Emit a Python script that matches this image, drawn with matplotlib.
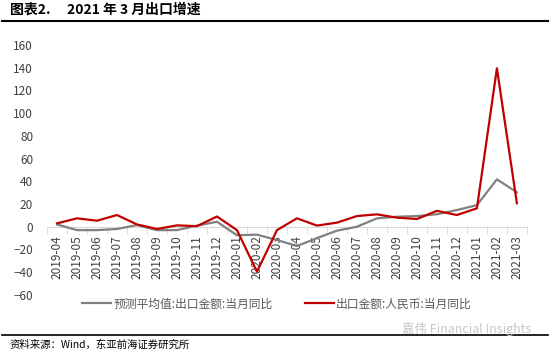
import matplotlib
matplotlib.use('Agg')
import matplotlib.pyplot as plt
import numpy as np

plt.rcParams['font.family'] = ['Noto Sans CJK SC', 'DejaVu Sans']

months = ['2019-04', '2019-05', '2019-06', '2019-07', '2019-08', '2019-09',
          '2019-10', '2019-11', '2019-12', '2020-01', '2020-02', '2020-03',
          '2020-04', '2020-05', '2020-06', '2020-07', '2020-08', '2020-09',
          '2020-10', '2020-11', '2020-12', '2021-01', '2021-02', '2021-03']
forecast = [2, -3, -3, -2, 1.5, -3, -3, 1, 4.4, -7.5, -7, -11.7,
            -17, -10, -3.5, 0, 7.4, 8.8, 9.4, 11, 14.7, 19, 41.7, 30.3]
actual_rmb = [3, 7.4, 5.3, 10.3, 2, -2, 1.2, 0.5, 9, -3, -39.6, -3,
              7.4, 1, 3.6, 9.4, 10.9, 8, 6.8, 14, 10.3, 16.2, 139.5, 20.6]
yticks = list(range(-60, 161, 20))

fig = plt.figure(figsize=(5.5, 3.57), dpi=100)
ax = fig.add_axes([0.0855, 0.174, 0.8725, 0.7])

x = np.arange(len(months))
ax.plot(x, forecast, color='#808080', lw=1.6, zorder=3,
        label='预测平均值:出口金额:当月同比')
ax.plot(x, actual_rmb, color='#C00000', lw=1.6, zorder=4,
        label='出口金额:人民币:当月同比')

ax.set_xlim(-0.5, len(months) - 0.5)
ax.set_ylim(-60, 160)
ax.set_yticks(yticks)
ax.tick_params(axis='y', length=0, labelsize=8.5, labelcolor='#404040', pad=10)

# x axis sits on the zero line
for s in ['top', 'right', 'left']:
    ax.spines[s].set_visible(False)
ax.spines['bottom'].set_position(('data', 0))
ax.spines['bottom'].set_color('#d9d9d9')
ax.set_xticks(x)
ax.set_xticklabels(months, rotation=90, fontsize=8.5, color='#404040')
ax.set_xticks(np.arange(len(months) + 1) - 0.5, minor=True)
ax.tick_params(axis='x', which='major', length=0, pad=6)
ax.tick_params(axis='x', which='minor', length=5, color='#d9d9d9')

fig.legend(*ax.get_legend_handles_labels(), loc='center',
           bbox_to_anchor=(0.504, 1 - 304 / 357), ncol=2, frameon=False,
           fontsize=8.5, handlelength=2.4, handletextpad=0.2,
           columnspacing=2.8, labelcolor='#595959')

# header / footer
fig.text(0.018, 0.972, '图表2.', fontsize=10, fontweight='bold', va='center')
fig.text(0.122, 0.972, '2021 年 3 月出口增速', fontsize=10, fontweight='bold',
         va='center')
fig.add_artist(plt.Line2D([0.004, 0.996], [0.94, 0.94], color='black', lw=1.5))
fig.add_artist(plt.Line2D([0.004, 0.996], [1 - 335 / 357, 1 - 335 / 357],
                          color='black', lw=1.2))
fig.text(0.018, 1 - 345 / 357, '资料来源：Wind，东亚前海证券研究所', fontsize=7.5,
         va='center')
fig.text(0.965, 1 - 329 / 357, '嘉伟 Financial Insights', fontsize=9,
         color='#c8c8c8', ha='right', va='center')

fig.savefig('out.png', dpi=100)
